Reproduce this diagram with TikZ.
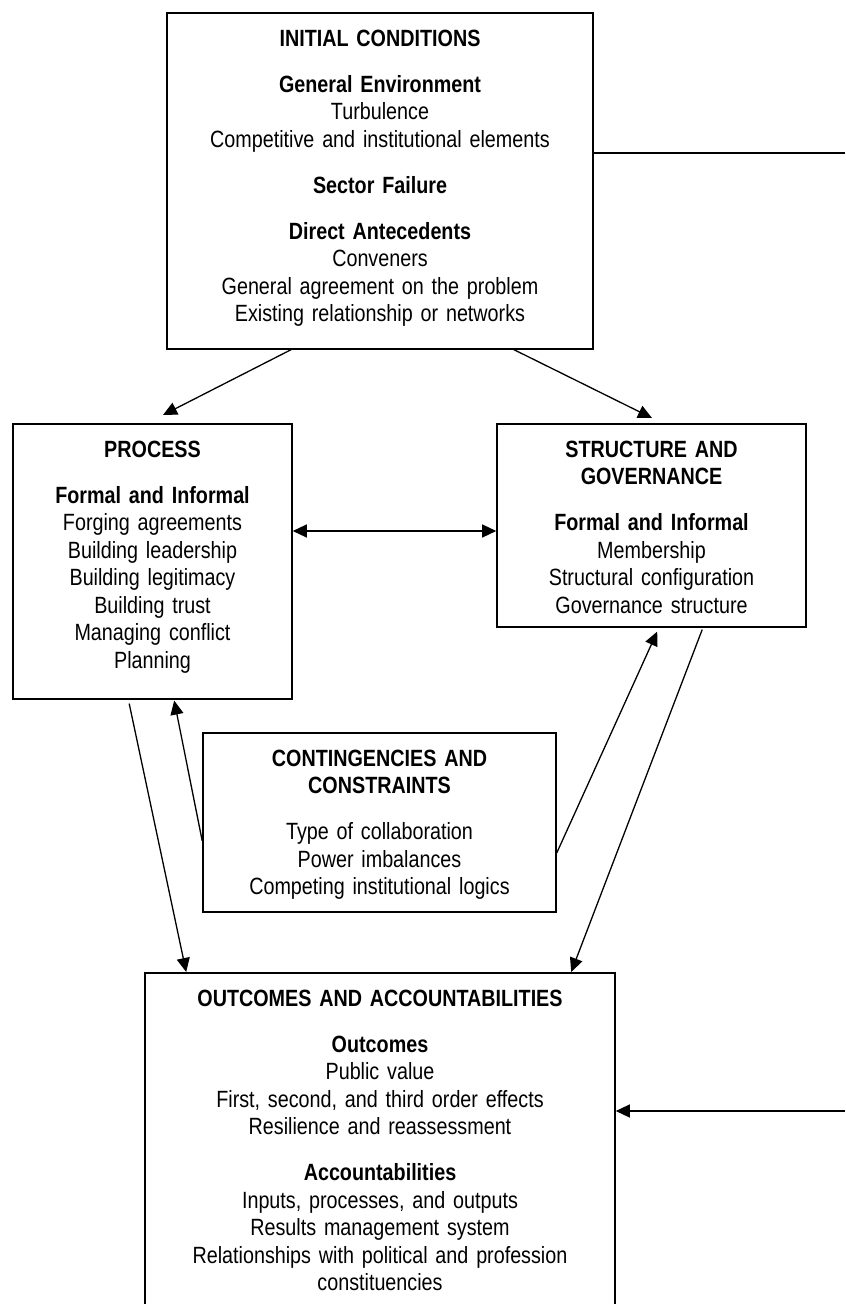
\documentclass[tikz,border=0pt]{standalone}
\usepackage{fontspec}
\setmainfont[FakeStretch=0.84,WordSpace=0.7]{Liberation Sans}
\usetikzlibrary{arrows.meta,calc}
\tikzset{
  stage/.style={draw,line width=0.8pt,text width=#1,align=center,inner xsep=0pt,inner ysep=0pt,anchor=north,text height=16.75pt},
  link/.style={line width=0.65pt}
}
\newcommand{\gap}{\\[9.25pt]}
\begin{document}
\begin{tikzpicture}[x=0.5pt,y=-0.5pt,>={Triangle[length=7pt,width=6.5pt]},font=\fontsize{11.75}{13.75}\selectfont]
        \useasboundingbox[fill=white] (0,0) rectangle (845,1304);
        \node[stage=213pt,text depth=151.25pt] (init) at (380,12) {\textbf{INITIAL CONDITIONS}\gap
          \textbf{General Environment}\\Turbulence\\Competitive and institutional elements\gap
          \textbf{Sector Failure}\gap
          \textbf{Direct Antecedents}\\Conveners\\General agreement on the problem\\Existing relationship or networks};
        \node[stage=139.5pt,text depth=120.75pt] (proc) at (152.5,423) {\textbf{PROCESS}\gap
          \textbf{Formal and Informal}\\Forging agreements\\Building leadership\\Building legitimacy\\Building trust\\Managing conflict\\Planning};
        \node[stage=154.5pt,text depth=84.75pt] (struct) at (651.5,423) {\textbf{STRUCTURE AND}\\\textbf{GOVERNANCE}\gap
          \textbf{Formal and Informal}\\Membership\\Structural configuration\\Governance structure};
        \node[stage=176.5pt,text depth=72.75pt] (cont) at (379.5,732) {\textbf{CONTINGENCIES AND}\\\textbf{CONSTRAINTS}\gap
          Type of collaboration\\Power imbalances\\Competing institutional logics};
        \node[stage=235pt,text depth=162.25pt] (outc) at (380,972) {\textbf{OUTCOMES AND ACCOUNTABILITIES}\gap
          \textbf{Outcomes}\\Public value\\First, second, and third order effects\\Resilience and reassessment\gap
          \textbf{Accountabilities}\\Inputs, processes, and outputs\\Results management system\\Relationships with political and profession\\constituencies};
        \coordinate (edgeA) at (845,153);
        \coordinate (edgeB) at (845,1111);
        \draw[link,->] ($(init.south west)+(125,0)$)--($(proc.north)+(10.5,-8)$);
        \draw[link,->] ($(init.south east)+(-80,0)$)--($(struct.north)+(0.5,-5)$);
        \draw[link,<->] ($(proc.north east)+(0,108)$)--($(struct.north west)+(0,108)$);
        \draw[link,->] ($(proc.south west)+(117,4)$)--($(outc.north west)+(42,0)$);
        \draw[link,->] ($(cont.west)+(0,18.5)$)--($(proc.south west)+(162,1)$);
        \draw[link,->] ($(cont.east)+(0,30.5)$)--($(struct.south west)+(161,4)$);
        \draw[link,->] ($(struct.south west)+(206,2)$)--($(outc.north west)+(427,0)$);
        \draw[link] ($(init.north east)+(0,141)$)--(edgeA);
        \draw[link,->] (edgeB)--($(outc.north east)+(0,139)$);
    \end{tikzpicture}
\end{document}
